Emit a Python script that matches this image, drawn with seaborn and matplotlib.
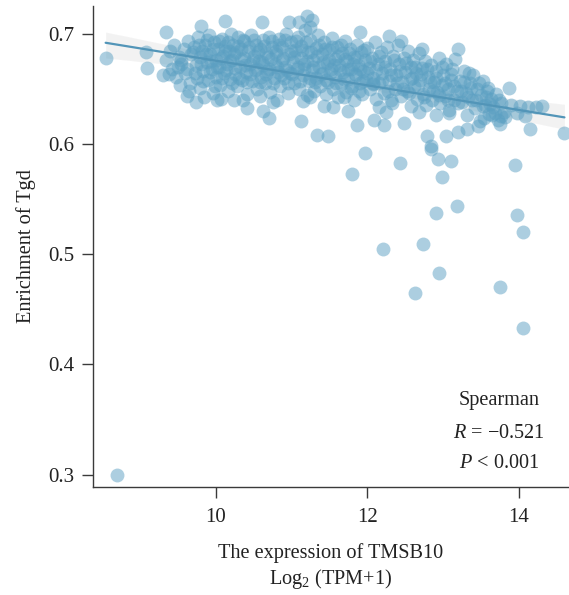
import numpy as np
import pandas as pd
import matplotlib
matplotlib.use("Agg")
import matplotlib.pyplot as plt
import seaborn as sns

# TMSB10 expression (log2 TPM+1) vs Tgd enrichment
# dense core of the cloud
expr_core = [
    9.35, 9.40, 9.42, 9.45, 9.48, 9.52, 9.55, 9.58, 9.60, 9.63, 9.66, 9.68, 9.38, 9.50, 9.65,
    9.72, 9.74, 9.75, 9.77, 9.79, 9.80, 9.82, 9.84, 9.86, 9.88, 9.90, 9.91, 9.93, 9.95, 9.96,
    9.98, 10.00, 10.01, 10.03, 10.05, 10.06, 10.08, 10.10, 10.11, 10.13, 10.15, 10.16, 10.18,
    10.19, 10.20, 9.85, 10.07,
    10.22, 10.23, 10.25, 10.27, 10.28, 10.30, 10.32, 10.33, 10.35, 10.37, 10.38, 10.40, 10.42,
    10.43, 10.45, 10.47, 10.48, 10.50, 10.52, 10.53, 10.55, 10.57, 10.58, 10.60, 10.62, 10.63,
    10.65, 10.67, 10.68, 10.70, 10.72, 10.73, 10.75, 10.77, 10.78, 10.36, 10.58, 10.76,
    10.80, 10.82, 10.83, 10.85, 10.87, 10.88, 10.90, 10.92, 10.93, 10.95, 10.97, 10.98, 11.00,
    11.02, 11.03, 11.05, 11.07, 11.08, 11.10, 11.12, 11.13, 11.15, 11.17, 11.18, 11.20, 11.22,
    11.23, 11.25, 11.27, 11.28, 11.30, 11.32, 11.33, 11.35, 11.37, 11.38, 11.24, 11.15,
    11.40, 11.42, 11.43, 11.45, 11.47, 11.48, 11.50, 11.52, 11.53, 11.55, 11.57, 11.58, 11.60,
    11.62, 11.63, 11.65, 11.67, 11.68, 11.70, 11.72, 11.73, 11.75, 11.77, 11.78, 11.80, 11.82,
    11.83, 11.85, 11.87, 11.88, 11.90, 11.92, 11.93, 11.95, 11.97, 11.98, 11.55, 11.75,
    12.00, 12.02, 12.04, 12.06, 12.08, 12.10, 12.12, 12.14, 12.16, 12.18, 12.20, 12.22, 12.24,
    12.26, 12.28, 12.30, 12.32, 12.34, 12.36, 12.38, 12.40, 12.42, 12.44, 12.46, 12.48, 12.50,
    12.52, 12.54, 12.56, 12.58, 12.25, 12.15,
    12.60, 12.62, 12.64, 12.66, 12.68, 12.70, 12.72, 12.74, 12.76, 12.78, 12.80, 12.82, 12.84,
    12.86, 12.88, 12.90, 12.92, 12.94, 12.96, 12.98, 13.00, 13.02, 13.04, 13.06, 13.08, 13.10,
    13.12, 13.14, 13.16, 13.18,
    13.22, 13.25, 13.27, 13.30, 13.32, 13.35, 13.38, 13.40, 13.42, 13.45, 13.48, 13.50, 13.52,
    13.55, 13.58, 13.60, 13.63, 13.66, 13.70, 13.72, 13.76, 13.80,
]
tgd_core = [
    0.676, 0.684, 0.668, 0.690, 0.661, 0.679, 0.672, 0.686, 0.664, 0.693, 0.655, 0.681, 0.663, 0.670, 0.648,
    0.688, 0.671, 0.660, 0.697, 0.679, 0.651, 0.684, 0.666, 0.690, 0.674, 0.658, 0.699, 0.681, 0.668, 0.646,
    0.692, 0.676, 0.661, 0.686, 0.670, 0.653, 0.695, 0.680, 0.664, 0.689, 0.672, 0.648, 0.684,
    0.659, 0.700, 0.642, 0.641,
    0.676, 0.690, 0.663, 0.683, 0.652, 0.697, 0.670, 0.686, 0.658, 0.678, 0.693, 0.665, 0.645,
    0.684, 0.672, 0.699, 0.657, 0.680, 0.667, 0.690, 0.650, 0.675, 0.686, 0.661, 0.694, 0.671,
    0.655, 0.682, 0.666, 0.697, 0.647, 0.677, 0.688, 0.660, 0.672, 0.640, 0.643, 0.638,
    0.684, 0.665, 0.695, 0.652, 0.676, 0.688, 0.660, 0.670, 0.700, 0.646, 0.681, 0.664, 0.692,
    0.674, 0.655, 0.685, 0.668, 0.697, 0.650, 0.678, 0.689, 0.662, 0.672, 0.703, 0.644, 0.683,
    0.657, 0.694, 0.667, 0.676, 0.648, 0.687, 0.660, 0.699, 0.670, 0.652, 0.706, 0.639,
    0.681, 0.664, 0.692, 0.645, 0.673, 0.656, 0.685, 0.668, 0.696, 0.650, 0.677, 0.661, 0.688,
    0.642, 0.671, 0.654, 0.682, 0.665, 0.693, 0.647, 0.675, 0.659, 0.686, 0.668, 0.652, 0.679,
    0.640, 0.662, 0.690, 0.671, 0.655, 0.683, 0.645, 0.666, 0.676, 0.658, 0.633, 0.630,
    0.687, 0.669, 0.650, 0.678, 0.660, 0.692, 0.641, 0.672, 0.655, 0.683, 0.664, 0.646, 0.675,
    0.688, 0.657, 0.668, 0.637, 0.680, 0.650, 0.662, 0.690, 0.672, 0.643, 0.656, 0.678, 0.665,
    0.648, 0.684, 0.659, 0.670, 0.629, 0.633,
    0.676, 0.652, 0.664, 0.641, 0.682, 0.658, 0.669, 0.645, 0.675, 0.635, 0.661, 0.650, 0.671,
    0.640, 0.656, 0.666, 0.647, 0.678, 0.637, 0.653, 0.662, 0.643, 0.672, 0.650, 0.631, 0.658,
    0.668, 0.640, 0.677, 0.648,
    0.657, 0.638, 0.666, 0.646, 0.626, 0.655, 0.640, 0.662, 0.632, 0.650, 0.621, 0.644, 0.657,
    0.635, 0.648, 0.627, 0.641, 0.633, 0.645, 0.622, 0.637, 0.629,
]

# second layer of the core, where the points pile up
expr_core2 = [
    9.55, 9.62, 9.70, 9.73, 9.78, 9.81, 9.83, 9.87, 9.89, 9.92, 9.94, 9.97, 9.99, 10.02, 10.04,
    10.07, 10.09, 10.12, 10.14, 10.17, 10.19, 10.21, 10.24, 10.26, 10.29, 10.31, 10.34, 10.36,
    10.39, 10.41, 10.44, 10.46, 10.49, 10.51, 10.54, 10.56, 10.59, 10.61, 10.64, 10.66, 10.69,
    10.71, 10.74, 10.76, 10.79, 10.81, 10.84, 10.86, 10.89, 10.91, 10.94, 10.96, 10.99, 11.01,
    11.04, 11.06, 11.09, 11.11, 11.14, 11.16, 11.19, 11.21, 11.24, 11.26, 11.29, 11.31, 11.34,
    11.36, 11.39, 11.41, 11.44, 11.46, 11.49, 11.51, 11.54, 11.56, 11.59, 11.61, 11.64, 11.66,
    11.69, 11.71, 11.74, 11.76, 11.79, 11.81, 11.84, 11.86, 11.89, 11.91, 11.94, 11.96, 11.99,
    12.03, 12.07, 12.11, 12.15, 12.19, 12.23, 12.27, 12.31, 12.35, 12.39, 12.43, 12.47, 12.51,
    12.55, 12.59, 12.63, 12.67, 12.71, 12.75, 12.79, 12.83, 12.87, 12.91, 12.95, 12.99, 13.03,
    13.07, 13.11, 13.15, 13.19, 13.23, 13.28, 13.33, 13.37, 13.43, 13.47, 13.53, 13.57, 13.62,
    13.68, 13.74, 13.82, 13.90, 13.97, 14.08, 14.12,
]
tgd_core2 = [
    0.676, 0.668, 0.683, 0.664, 0.690, 0.672, 0.657, 0.681, 0.694, 0.665, 0.675, 0.686, 0.652, 0.670, 0.693,
    0.678, 0.660, 0.684, 0.667, 0.692, 0.675, 0.655, 0.681, 0.669, 0.689, 0.660, 0.677, 0.694,
    0.671, 0.656, 0.688, 0.663, 0.676, 0.694, 0.668, 0.683, 0.656, 0.674, 0.689, 0.663, 0.679,
    0.668, 0.693, 0.655, 0.681, 0.670, 0.690, 0.662, 0.678, 0.694, 0.667, 0.655, 0.684, 0.663,
    0.679, 0.693, 0.670, 0.657, 0.685, 0.668, 0.692, 0.675, 0.660, 0.683, 0.670, 0.656, 0.680,
    0.690, 0.663, 0.674, 0.686, 0.658, 0.676, 0.664, 0.688, 0.671, 0.655, 0.680, 0.667, 0.690,
    0.659, 0.677, 0.668, 0.682, 0.651, 0.672, 0.663, 0.679, 0.648, 0.668, 0.657, 0.685, 0.664,
    0.675, 0.654, 0.667, 0.680, 0.658, 0.670, 0.648, 0.662, 0.676, 0.655, 0.666, 0.650, 0.673,
    0.646, 0.660, 0.670, 0.652, 0.663, 0.642, 0.668, 0.656, 0.648, 0.660, 0.644, 0.670, 0.655,
    0.640, 0.663, 0.652, 0.637, 0.648, 0.656, 0.642, 0.651, 0.640, 0.655, 0.634, 0.642, 0.636,
    0.628, 0.640, 0.624, 0.635, 0.628, 0.625, 0.633,
]

# edge of the cloud
expr_edge = [
    8.55, 9.08, 9.10, 9.30, 9.53, 9.62, 9.74, 10.02, 10.24, 10.62, 10.81, 11.25, 11.43, 11.69,
    12.07, 12.31, 12.57, 12.90, 13.08, 13.46, 13.65,
    9.35, 9.81, 10.13, 10.61, 10.97, 11.21, 11.27, 11.10, 11.91, 12.29, 12.45, 12.72, 13.19,
    13.34, 13.59,
    12.79, 12.84, 13.04, 13.32, 14.15, 14.60, 13.75, 14.31, 14.23, 13.87, 14.02, 11.34, 11.48,
    11.13, 10.70, 10.41, 11.87, 12.09, 12.22, 12.48, 12.68, 13.19, 13.54, 13.76,
]
tgd_edge = [
    0.678, 0.683, 0.669, 0.662, 0.653, 0.643, 0.638, 0.640, 0.640, 0.630, 0.640, 0.642, 0.634, 0.642,
    0.655, 0.640, 0.634, 0.626, 0.628, 0.616, 0.626,
    0.701, 0.707, 0.711, 0.710, 0.710, 0.716, 0.712, 0.710, 0.701, 0.698, 0.693, 0.686, 0.686,
    0.664, 0.651,
    0.607, 0.598, 0.607, 0.613, 0.613, 0.610, 0.618, 0.634, 0.633, 0.651, 0.634, 0.608, 0.607,
    0.621, 0.623, 0.632, 0.617, 0.622, 0.617, 0.619, 0.629, 0.611, 0.623, 0.625,
]

# low outliers
expr_low = [11.97, 11.80, 12.43, 12.84, 12.93, 13.11, 12.98, 13.95, 13.18, 12.91, 13.98,
            14.05, 12.21, 12.73, 12.95, 12.63, 13.75, 14.05, 8.70]
tgd_low = [0.592, 0.573, 0.583, 0.595, 0.586, 0.584, 0.570, 0.581, 0.544, 0.537, 0.535,
           0.520, 0.505, 0.509, 0.483, 0.465, 0.470, 0.433, 0.300]

df = pd.DataFrame({
    "expr": expr_core + expr_core2 + expr_edge + expr_low,
    "tgd": tgd_core + tgd_core2 + tgd_edge + tgd_low,
})

sns.set_style("ticks")
plt.rcParams["font.family"] = ["Liberation Serif", "DejaVu Serif"]
plt.rcParams["mathtext.fontset"] = "custom"
plt.rcParams["mathtext.rm"] = "Liberation Serif"
plt.rcParams["mathtext.it"] = "Liberation Serif:italic"

fig = plt.figure(figsize=(5.69, 5.95), dpi=100)
ax = fig.add_axes([0.163, 0.182, 0.837, 0.808])

# grey confidence band, then the points and the fitted line
sns.regplot(data=df, x="expr", y="tgd", ax=ax, scatter=False, color="#a8a8a8",
            line_kws={"lw": 0})
sns.regplot(data=df, x="expr", y="tgd", ax=ax, ci=None,
            scatter_kws={"color": "#5a9fc2", "alpha": 0.5, "s": 100, "linewidths": 0},
            line_kws={"color": "#5295b8", "lw": 1.6})

ax.set_xlim(8.38, 14.66)
ax.set_ylim(0.289, 0.725)
ax.set_xticks([10, 12, 14])
ax.set_yticks([0.3, 0.4, 0.5, 0.6, 0.7])
ax.set_xticklabels(["10", "12", "14"])
ax.set_yticklabels(["0.3", "0.4", "0.5", "0.6", "0.7"])
sns.despine(ax=ax)
for s in ["left", "bottom"]:
    ax.spines[s].set_color("#3a3a3a")
    ax.spines[s].set_linewidth(1.0)
ax.tick_params(length=8, width=1.0, color="#3a3a3a", labelsize=15, labelcolor="#222222", pad=5)
ax.tick_params(axis="x", pad=7)

ax.set_xlabel("The expression of TMSB10\nLog$_2$ (TPM+1)", fontsize=14.6, color="#222222",
              linespacing=1.2, labelpad=12)
ax.set_ylabel("Enrichment of Tgd", fontsize=14.6, color="#222222", labelpad=9)

ax.text(0.853, 0.18, "Spearman", transform=ax.transAxes, ha="center", va="center",
        fontsize=14.6, color="#222222")
ax.text(0.853, 0.111, "$\\it{R}$ = \u22120.521", transform=ax.transAxes, ha="center",
        va="center", fontsize=14.6, color="#222222")
ax.text(0.853, 0.049, "$\\it{P}$ < 0.001", transform=ax.transAxes, ha="center",
        va="center", fontsize=14.6, color="#222222")

fig.savefig("out.png", dpi=100)
